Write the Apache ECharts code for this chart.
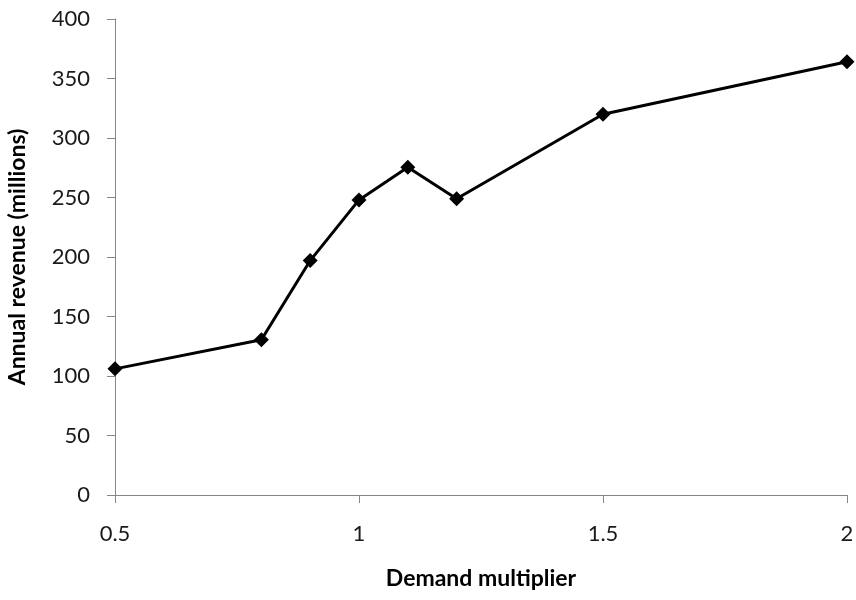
<!DOCTYPE html>
<html><head><meta charset="utf-8">
<script src="https://cdn.jsdelivr.net/npm/echarts@6/dist/echarts.min.js"></script>
<style>html,body{margin:0;padding:0;background:#fff}#c{width:856px;height:600px}</style>
</head><body><div id="c"></div>
<script>
const xValues = [0.5, 0.8, 0.9, 1.0, 1.1, 1.2, 1.5, 2.0];
const revenue = [106, 130.5, 197, 248, 275.5, 249, 320, 364];
const xTitle = 'Demand multiplier';
const yTitle = 'Annual revenue (millions)';
const font = 'Lato, "Open Sans", sans-serif';
const chart = echarts.init(document.getElementById('c'));
chart.setOption({
  animation: false,
  grid: {left: 115, right: 9, top: 19, bottom: 105, containLabel: false, outerBoundsMode: 'none'},
  xAxis: {
    type: 'value', min: 0.5, max: 2, interval: 0.5,
    name: xTitle, nameLocation: 'middle', nameGap: 72,
    nameTextStyle: {fontFamily: font, fontSize: 23, fontWeight: 'bold', color: '#000'},
    axisLine: {show: true, lineStyle: {color: '#868686', width: 1}},
    axisTick: {show: true, length: 8, lineStyle: {color: '#868686'}},
    axisLabel: {fontFamily: font, fontSize: 22, color: '#1a1a1a', margin: 28},
    splitLine: {show: false}
  },
  yAxis: {
    type: 'value', min: 0, max: 400, interval: 50,
    name: yTitle, nameLocation: 'middle', nameGap: 86,
    nameTextStyle: {fontFamily: font, fontSize: 23, fontWeight: 'bold', color: '#000'},
    axisLine: {show: true, lineStyle: {color: '#868686', width: 1}},
    axisTick: {show: true, length: 8, lineStyle: {color: '#868686'}},
    axisLabel: {fontFamily: font, fontSize: 22, color: '#1a1a1a', margin: 25},
    splitLine: {show: false}
  },
  series: [{
    type: 'line',
    data: xValues.map((x, i) => [x, revenue[i]]),
    symbol: 'diamond', symbolSize: 15,
    lineStyle: {color: '#000', width: 3},
    itemStyle: {color: '#000'}
  }]
});
</script></body></html>
